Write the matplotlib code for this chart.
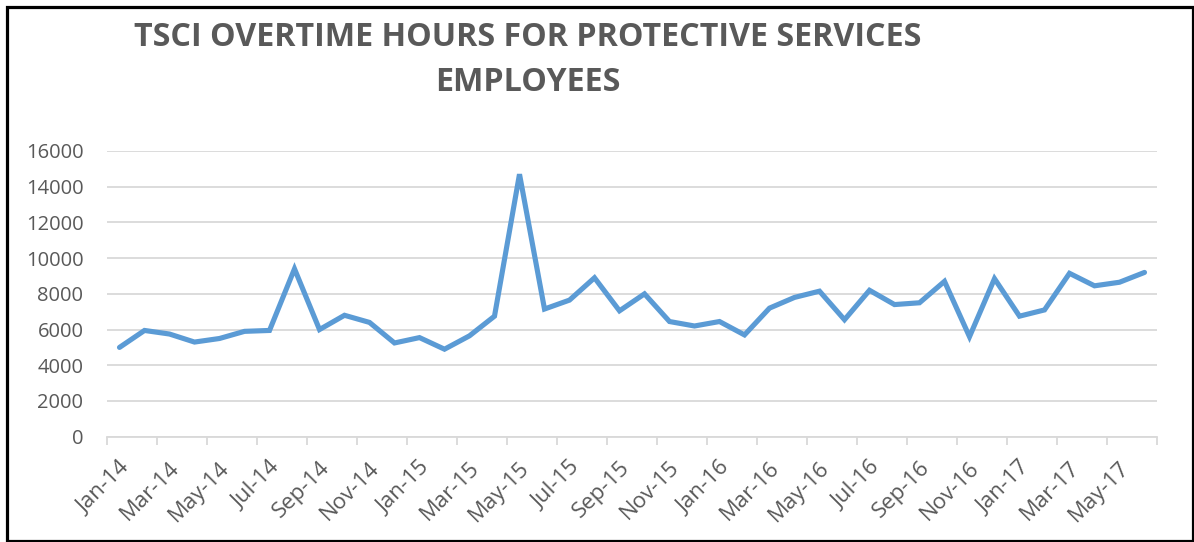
import matplotlib
matplotlib.use("Agg")
import matplotlib.pyplot as plt
import numpy as np
from matplotlib.patches import Rectangle
from matplotlib.transforms import ScaledTranslation

months = ["Jan", "Feb", "Mar", "Apr", "May", "Jun", "Jul", "Aug", "Sep", "Oct", "Nov", "Dec"]
categories = [f"{m}-{y}" for y in ["14", "15", "16", "17"] for m in months][:42]
overtime_hours = [5000, 5950, 5750, 5300, 5500, 5900, 5950, 9400, 6000, 6800, 6400, 5250,
                  5550, 4900, 5650, 6750, 14700, 7150, 7650, 8900, 7050, 8000, 6450, 6200,
                  6450, 5700, 7200, 7800, 8150, 6550, 8200, 7400, 7500, 8700, 5600, 8850,
                  6750, 7100, 9150, 8450, 8650, 9200]
y_ticks = [0, 2000, 4000, 6000, 8000, 10000, 12000, 14000, 16000]
title = "TSCI OVERTIME HOURS FOR PROTECTIVE SERVICES\nEMPLOYEES"

W, H = 1194, 542
fig = plt.figure(figsize=(W / 100, H / 100), dpi=100)
fig.patch.set_facecolor("white")

left, right, top, bottom = 107, 1157, 151, 436.7
ax = fig.add_axes([left / W, 1 - bottom / H, (right - left) / W, (bottom - top) / H])

x = np.arange(len(overtime_hours))
ax.plot(x, overtime_hours, color="#5B9BD5", lw=3.7, solid_joinstyle="miter", solid_capstyle="round", zorder=3)

ax.set_xlim(-0.5, len(overtime_hours) - 0.5)
ax.set_ylim(0, 16000)
ax.set_yticks(y_ticks)
ax.set_yticklabels([str(v) for v in y_ticks], fontsize=14.5, color="#595959", family="Open Sans")
ax.grid(axis="y", color="#D9D9D9", lw=1.3, zorder=0)
ax.set_axisbelow(True)

ax.set_xticks(np.arange(-0.5, len(overtime_hours), 2))
ax.set_xticklabels([])
ax.set_xticks(np.arange(0, len(overtime_hours), 2), minor=True)
ax.set_xticklabels(categories[::2], minor=True, rotation=45, ha="right", va="center",
                   rotation_mode="anchor", fontsize=16, color="#595959", family="Open Sans")
ax.tick_params(axis="x", which="major", length=6, width=1.3, color="#D9D9D9")
ax.tick_params(axis="x", which="minor", length=0, pad=20)
ax.tick_params(axis="y", length=0, pad=17)
shift = ScaledTranslation(0.07, 0, fig.dpi_scale_trans)
for lbl in ax.get_xticklabels(minor=True):
    lbl.set_transform(lbl.get_transform() + shift)

for s in ["top", "right", "left"]:
    ax.spines[s].set_visible(False)
ax.spines["bottom"].set_color("#D9D9D9")
ax.spines["bottom"].set_linewidth(1.3)

fig.text(528 / W, 1 - 60 / H, title, ha="center", va="center", fontsize=23.2, fontweight="bold",
         color="#595959", family=["Open Sans", "DejaVu Sans"], linespacing=1.5)

fig.patches.append(Rectangle((6.5 / W, 1 / H), 1186 / W, 534 / H, transform=fig.transFigure,
                             fill=False, edgecolor="black", lw=2.3))

fig.savefig("out.png", dpi=100)
